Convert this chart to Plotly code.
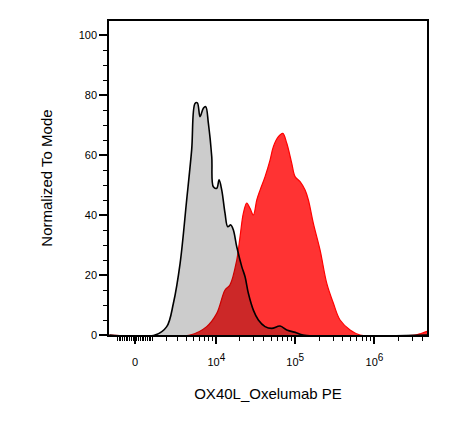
import numpy as np
import plotly.graph_objects as go

# biexponential-ish display: asinh(v / cofactor)
cofactor = 1900.0


def to_display(v):
    return np.arcsinh(np.asarray(v, dtype=float) / cofactor)


# fluorescence intensity (PE) vs % of mode
isotype_x = [-1550, 1167, 2008, 2586, 3265, 4049, 4743, 5265, 5658, 6141, 6785,
             7290, 7891, 8731, 9154, 10127, 10849, 11733, 12920, 14000, 15295,
             16511, 18221, 21090, 23218, 25555, 29564, 34200, 41572, 50521,
             64315, 78166, 104557, 125000, 4600000]
isotype_y = [0, 0, 2.8, 10.6, 23.9, 45, 61.7, 77.2, 77.4, 72.8, 75.6,
             76.1, 70.6, 59.4, 49.4, 48.9, 51.7, 48.3, 40.6, 36.1, 36.7,
             35, 29.4, 22.8, 19.4, 13.9, 8.3, 5, 2.8, 2.2,
             3, 1.7, 0.7, 0, 0]

stained_x = [-1550, 4503, 7505, 10127, 12920, 14953, 18221, 20064, 22097, 24396,
             26866, 29564, 32661, 35967, 41572, 48051, 52915, 61218, 69578,
             78166, 90345, 99465, 115083, 133057, 146490, 169290, 205770,
             250040, 302860, 367840, 492100, 658350, 3250000, 3870000, 4600000]
stained_y = [0, 0, 2.8, 7.2, 15, 16.7, 25, 32.8, 40.6, 44,
             42.2, 40, 45, 48.3, 52.8, 58.3, 62.8, 66.1, 67.2,
             63.9, 57.2, 52.8, 51.1, 48.3, 45, 37.2, 28.3,
             17.2, 10.6, 5, 1.7, 0, 0, 0.5, 1.2]

major_vals = [0, 1e4, 1e5, 1e6]
major_text = ['0'] + ['10<sup><span style="font-size:10px">%d</span></sup>' % p
                      for p in (4, 5, 6)]
minor_vals = ([-k * 100 for k in range(1, 11)] + [k * 100 for k in range(1, 10)]
              + [k * 1000 for k in range(1, 10)] + [k * 1e4 for k in range(2, 10)]
              + [k * 1e5 for k in range(2, 10)] + [k * 1e6 for k in range(2, 5)])
x_min, x_max = -1578, 4600000

fig = go.Figure()
fig.add_trace(go.Scatter(
    x=to_display(stained_x), y=stained_y, mode='lines', line_shape='spline',
    line=dict(color='rgb(255,0,0)', width=1.2),
    fill='tozeroy', fillcolor='rgba(255,0,0,0.8)', showlegend=False))
fig.add_trace(go.Scatter(
    x=to_display(isotype_x), y=isotype_y, mode='lines', line_shape='spline',
    line=dict(color='black', width=1.6),
    fill='tozeroy', fillcolor='rgba(0,0,0,0.2)', showlegend=False))

# page body has an 8px margin, so the margins are offset to compensate
fig.update_layout(
    width=467, height=422,
    margin=dict(l=101, r=48, t=13, b=95),
    paper_bgcolor='white', plot_bgcolor='white',
    font=dict(family='Liberation Sans, Arial, sans-serif', color='black'),
)
fig.update_xaxes(
    range=[float(to_display(x_min)), float(to_display(x_max))],
    tickmode='array', tickvals=to_display(major_vals), ticktext=major_text,
    ticks='outside', ticklen=7, tickwidth=2, tickcolor='black',
    minor=dict(tickmode='array', tickvals=to_display(minor_vals),
               ticks='outside', ticklen=4, tickwidth=1, tickcolor='black'),
    showgrid=False, zeroline=False,
    showline=True, linecolor='black', linewidth=1.5, mirror=True,
    tickfont=dict(size=11), ticklabelstandoff=9,
    title=dict(text='OX40L_Oxelumab PE', font=dict(size=15), standoff=22),
)
fig.update_yaxes(
    range=[0, 104.67],
    tickmode='array', tickvals=[0, 20, 40, 60, 80, 100],
    ticks='outside', ticklen=8, tickwidth=2, tickcolor='black',
    minor=dict(tickmode='linear', tick0=0, dtick=5,
               ticks='outside', ticklen=4, tickwidth=1, tickcolor='black'),
    showgrid=False, zeroline=False,
    showline=True, linecolor='black', linewidth=1.5, mirror=True,
    tickfont=dict(size=11),
    title=dict(text='Normalized To Mode', font=dict(size=15), standoff=22),
)

fig.write_html("out.html")
